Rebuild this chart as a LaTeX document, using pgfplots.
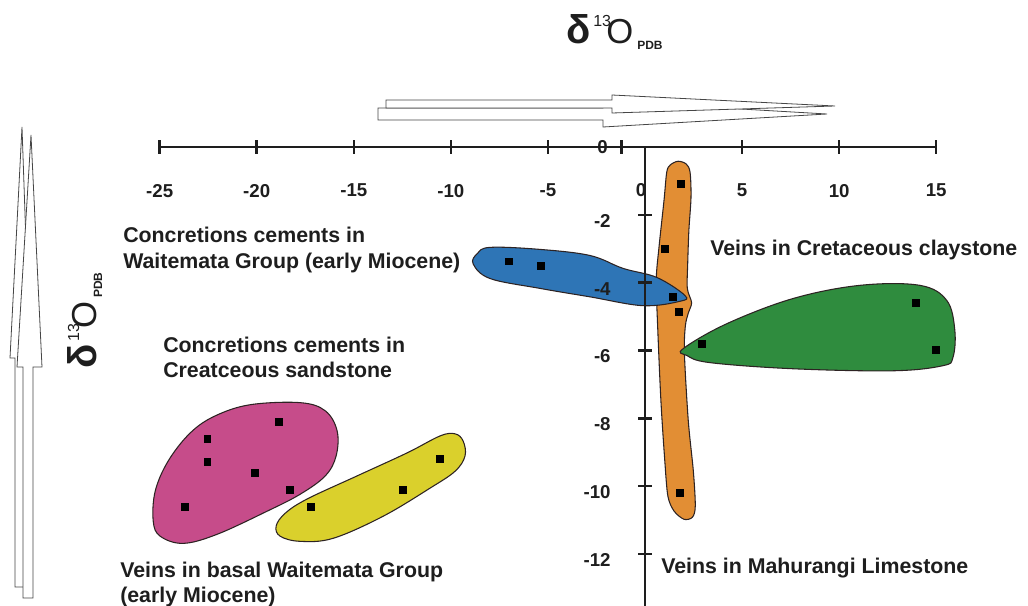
\documentclass[border=0pt]{standalone}
\usepackage{pgfplots}
\pgfplotsset{compat=1.18}
\usepackage{fontspec}
\setmainfont{Liberation Sans}
\newfontfamily\seriffont{Liberation Serif}
\definecolor{cblue}{RGB}{46,117,182}
\definecolor{corange}{RGB}{226,142,52}
\definecolor{cgreen}{RGB}{47,140,62}
\definecolor{cmag}{RGB}{198,76,138}
\definecolor{cyel}{RGB}{218,208,44}
\definecolor{outl}{RGB}{45,35,35}
\definecolor{txt}{RGB}{30,30,30}
\definecolor{arr}{RGB}{70,70,70}
\newcommand{\lblfont}{\fontsize{16pt}{19pt}\selectfont\bfseries}
\newcommand{\tickfont}{\fontsize{14pt}{16pt}\selectfont\bfseries}
\newcommand{\isolabel}{\rlap{{\bfseries\fontsize{30pt}{30pt}\selectfont δ}}\hspace{20.25pt}\rlap{\raisebox{12.75pt}{\fontsize{12pt}{12pt}\selectfont 13}}\hspace{9.75pt}\rlap{\fontsize{26pt}{26pt}\selectfont O}\hspace{23.25pt}\raisebox{-4.5pt}{\fontsize{9pt}{9pt}\selectfont\bfseries PDB}}
\begin{document}
\begin{tikzpicture}
\begin{axis}[
  at={(483.75pt,-110.25pt)}, anchor=origin,
  x=14.56pt, y=25.43pt,
  xmin=-25, xmax=15, ymin=-13.55, ymax=0,
  axis lines=middle,
  axis line style={line width=2.2pt, txt, -},
  every inner x axis line/.append style={-},
  every inner y axis line/.append style={-},
  clip=false,
  axis on top,
  xtick={-25,-20,-15,-10,-5,5,10,15},
  xticklabels={-25,-20,-15,-10,-5,5,10,15},
  ytick={-12,-10,-8,-6,-4,-2},
  yticklabels={-12,-10,-8,-6,-4,-2},
  minor xtick={-1.2},
  tick align=center,
  major tick length=10.5pt, minor tick length=10.5pt,
  every major tick/.append style={line width=1.9pt, txt},
  every minor tick/.append style={line width=1.9pt, txt},
  xticklabel style={font=\tickfont, text=txt, yshift=-19pt},
  yticklabel style={font=\tickfont, text=txt, xshift=-17pt, yshift=-4.5pt},
]
% Concretions cements in Cretaceous sandstone (magenta)
\addplot[fill=cmag, draw=outl, line width=0.8pt, smooth cycle, tension=0.6] coordinates {
(-20.33,-7.60) (-17.76,-7.54) (-16.47,-7.78) (-15.86,-8.37) (-15.91,-9.11) (-16.47,-9.70)
(-17.76,-10.24) (-19.46,-10.74) (-22.03,-11.42) (-23.78,-11.69) (-24.97,-11.48) (-25.33,-11.04)
(-25.23,-10.15) (-24.56,-9.26) (-23.42,-8.43) (-22.14,-7.93)};
% Veins in basal Waitemata Group (yellow)
\addplot[fill=cyel, draw=outl, line width=0.8pt, smooth cycle, tension=0.6] coordinates {
(-10.55,-8.52) (-9.78,-8.46) (-9.37,-8.67) (-9.27,-9.11) (-9.78,-9.56) (-11.07,-10.06)
(-13.49,-10.89) (-16.06,-11.54) (-17.76,-11.63) (-18.79,-11.48) (-19.00,-11.18) (-18.53,-10.80)
(-17.40,-10.38) (-14.83,-9.70) (-12.25,-9.02)};
% Veins in Mahurangi Limestone (orange)
\addplot[fill=corange, draw=outl, line width=0.8pt, smooth cycle, tension=0.5] coordinates {
(1.30,-0.53) (1.70,-0.42) (2.12,-0.50) (2.32,-0.74) (2.37,-1.48) (2.26,-2.46) (2.20,-3.43)
(2.18,-4.17) (2.40,-4.59) (2.24,-4.88) (2.08,-5.27) (2.03,-6.09) (2.23,-8.08) (2.49,-9.56)
(2.59,-10.59) (2.44,-10.92) (2.01,-10.98) (1.50,-10.74) (1.18,-10.30) (1.02,-9.26)
(0.82,-7.49) (0.66,-5.41) (0.58,-3.93) (0.72,-2.96) (0.98,-1.57) (1.12,-0.74)};
% Concretions cements in Waitemata Group (blue)
\addplot[fill=cblue, draw=outl, line width=0.8pt, smooth cycle, tension=0.6] coordinates {
(-8.65,-3.15) (-7.98,-2.96) (-5.41,-3.02) (-2.83,-3.20) (-1.13,-3.58) (0.62,-3.85)
(2.06,-4.38) (1.80,-4.55) (-0.10,-4.68) (-2.83,-4.42) (-5.41,-4.17) (-7.98,-3.88) (-8.85,-3.45)};
% Veins in Cretaceous claystone (green)
\addplot[fill=cgreen, draw=outl, line width=0.8pt, smooth cycle, tension=0.6] coordinates {
(1.96,-5.95) (4.22,-5.21) (7.62,-4.47) (11.07,-4.08) (14.16,-4.08) (15.55,-4.53) (15.96,-5.41)
(15.86,-6.21) (15.34,-6.45) (12.77,-6.60) (7.62,-6.54) (3.35,-6.36) (2.16,-6.15)};
% data points
\addplot[only marks, mark=square*, mark size=2.6pt, black] coordinates {(-7.0,-3.37) (-5.36,-3.49) (1.44,-4.41)};
\addplot[only marks, mark=square*, mark size=2.6pt, black] coordinates {(1.85,-1.09) (1.03,-2.99) (1.75,-4.85) (1.8,-10.2)};
\addplot[only marks, mark=square*, mark size=2.6pt, black] coordinates {(2.94,-5.8) (13.95,-4.6) (15.0,-5.98)};
\addplot[only marks, mark=square*, mark size=2.6pt, black] coordinates {(-22.55,-8.6) (-22.55,-9.29) (-18.85,-8.1) (-20.1,-9.6) (-18.3,-10.1) (-23.7,-10.6)};
\addplot[only marks, mark=square*, mark size=2.6pt, black] coordinates {(-17.2,-10.6) (-12.5,-10.1) (-10.55,-9.2)};
\end{axis}
\begin{scope}[x=0.75pt,y=-0.75pt]
% arrows
\filldraw[fill=white, draw=arr, line width=0.6pt] (15,587) -- (15,358) -- (10,358) -- (22,127) -- (30,358) -- (24,358) -- (24,587) -- cycle;
\filldraw[fill=white, draw=arr, line width=0.6pt] (23,598) -- (23,367) -- (17,367) -- (31,135) -- (42,367) -- (33,367) -- (33,598) -- cycle;
\filldraw[fill=white, draw=arr, line width=0.6pt] (378,108) -- (603,108) -- (603,101) -- (827,114) -- (603,127) -- (603,120) -- (378,120) -- cycle;
\filldraw[fill=white, draw=arr, line width=0.6pt] (386,100) -- (612,100) -- (612,95) -- (835,106) -- (612,113) -- (612,108) -- (386,108) -- cycle;
% titles
\node[anchor=base west, inner sep=0, text=txt] at (566,44) {\isolabel};
\node[anchor=base west, inner sep=0, text=txt, rotate=90] at (96,369) {\isolabel};
% zero labels
\node[anchor=north, inner sep=0, text=txt, font=\tickfont] at (641,183) {0};
\node[anchor=east, inner sep=0, text=txt, font=\tickfont] at (608,147) {0};
% group labels
\node[anchor=base west, inner sep=0, text=txt, font=\lblfont] at (123,243) {Concretions cements in};
\node[anchor=base west, inner sep=0, text=txt, font=\lblfont] at (123,268) {Waitemata Group (early Miocene)};
\node[anchor=base west, inner sep=0, text=txt, font=\lblfont] at (163,352) {Concretions cements in};
\node[anchor=base west, inner sep=0, text=txt, font=\lblfont] at (163,377) {Creatceous sandstone};
\node[anchor=base west, inner sep=0, text=txt, font=\lblfont] at (710,255) {Veins in Cretaceous claystone};
\node[anchor=base west, inner sep=0, text=txt, font=\lblfont] at (661,573) {Veins in Mahurangi Limestone};
\node[anchor=base west, inner sep=0, text=txt, font=\lblfont] at (120,577) {Veins in basal Waitemata Group};
\node[anchor=base west, inner sep=0, text=txt, font=\lblfont] at (120,602) {(early Miocene)};
\end{scope}
\pgfresetboundingbox
\path[use as bounding box] (0pt,0pt) rectangle (771pt,-454.5pt);
\end{tikzpicture}
\end{document}
